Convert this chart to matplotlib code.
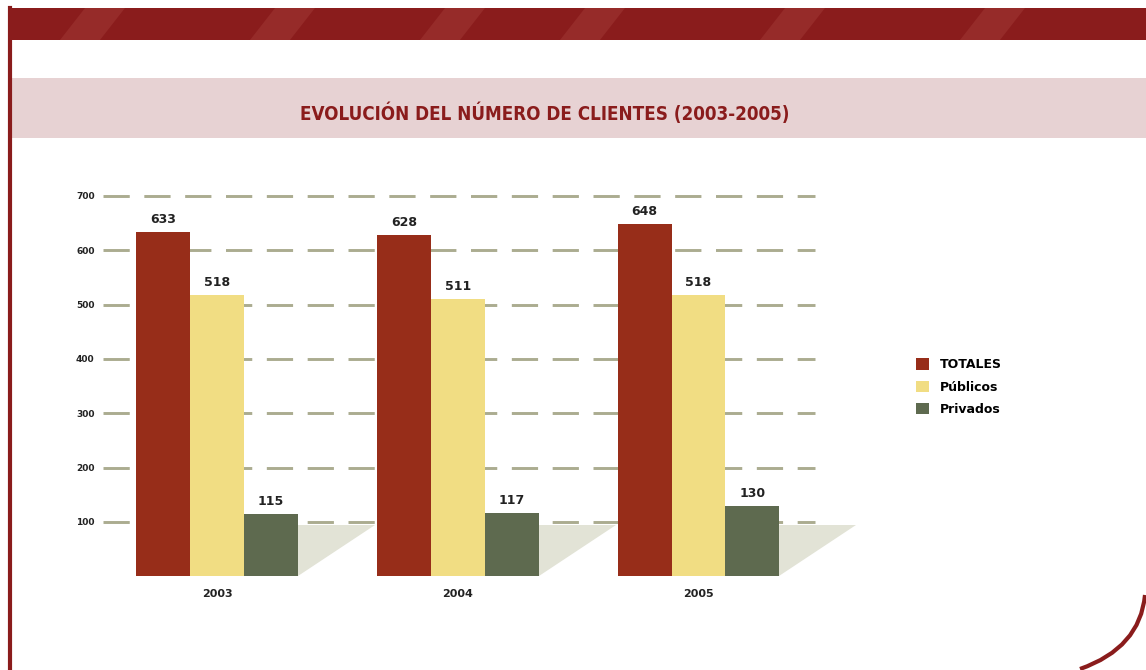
import matplotlib.pyplot as plt
from matplotlib.patches import Rectangle, Polygon, PathPatch
from matplotlib.path import Path
import numpy as np

years = ['2003', '2004', '2005']
series = ['TOTALES', 'Públicos', 'Privados']
totales = [633, 628, 648]
publicos = [518, 511, 518]
privados = [115, 117, 130]
yticks = [100, 200, 300, 400, 500, 600, 700]

colors = ['#972d19', '#f1dd83', '#5e6a4f']
dark_red = '#8a1c1c'

W, H = 1146, 670
fig = plt.figure(figsize=(W / 100, H / 100), dpi=100)
fig.patch.set_facecolor('white')

def px(x, y):
    # pixel coords (top-left origin) -> figure fraction
    return x / W, 1 - y / H

# top band with faint lighter stripes
fig.patches.append(Rectangle(px(8, 40), (W - 8) / W, 32 / H, transform=fig.transFigure,
                             facecolor=dark_red, edgecolor='none', zorder=0))
for x0 in [60, 250, 420, 560, 760, 960]:
    pts = [px(x0, 40), px(x0 + 40, 40), px(x0 + 65, 8), px(x0 + 25, 8)]
    fig.patches.append(Polygon(pts, closed=True, transform=fig.transFigure,
                               facecolor='#a23a36', edgecolor='none', alpha=0.5, zorder=0))

# pink title band
fig.patches.append(Rectangle(px(12, 138), (W - 12) / W, 60 / H, transform=fig.transFigure,
                             facecolor='#e7d2d3', edgecolor='none', zorder=0))

# left border and rounded bottom-right corner
fig.lines.append(plt.Line2D([10 / W, 10 / W], [0, 1 - 8 / H], transform=fig.transFigure,
                            color=dark_red, linewidth=3))
verts = [px(1145, 595), px(1140, 648), px(1080, 669)]
curve = Path(verts, [Path.MOVETO, Path.CURVE3, Path.CURVE3])
fig.patches.append(PathPatch(curve, transform=fig.transFigure, facecolor='none',
                             edgecolor=dark_red, linewidth=3))

fig.text(545 / W, 1 - 113 / H, 'EVOLUCIÓN DEL NÚMERO DE CLIENTES (2003-2005)',
         ha='center', va='center', fontsize=13.5, color=dark_red, fontweight='bold',
         family=['Liberation Sans Narrow', 'DejaVu Sans'], fontstretch='condensed')

# axes
left = 103 / W
right = 860 / W
bottom = (H - 576.3) / H
height = 391.2 / H
ax = fig.add_axes([left, bottom, right - left, height])
ax.set_facecolor('none')

x = np.arange(len(years))
bw = 0.224
vals = [totales, publicos, privados]

ax.set_xlim(-0.4735, 2.671)
ax.set_ylim(0, 720)

# dashed gridlines
for yv in yticks:
    ax.plot([-0.4735, 2.484], [yv, yv], color='#abac90', linewidth=2.1,
            dashes=(9, 5), zorder=1, solid_capstyle='butt', dash_capstyle='butt')

# floor shadows behind the private bars
for i in x:
    xr = i + 1.5 * bw
    ax.add_patch(Polygon([(xr, 0), (xr, 95), (i + 0.656, 95)], closed=True,
                         facecolor='#e2e3d6', edgecolor='none', zorder=2))

for k, (v, c) in enumerate(zip(vals, colors)):
    bars = ax.bar(x + (k - 1) * bw, v, width=bw, color=c, zorder=3, label=series[k])
    for b, val in zip(bars, v):
        ax.annotate(str(val), (b.get_x() + b.get_width() / 2, val), xytext=(0, 9),
                    textcoords='offset points', ha='center', va='center',
                    fontsize=9, fontweight='bold', color='#222222')

ax.set_yticks(yticks)
ax.set_yticklabels([str(t) for t in yticks], fontsize=6.5, fontweight='bold', color='#222222')
ax.set_xticks(x)
ax.set_xticklabels(years, fontsize=8, fontweight='bold', color='#222222')
ax.tick_params(axis='y', length=0, pad=6)
ax.tick_params(axis='x', length=0, pad=9)
for s in ax.spines.values():
    s.set_visible(False)

leg = fig.legend(loc='upper left', bbox_to_anchor=(910 / W, 1 - 352 / H), frameon=False,
                 prop={'size': 9, 'weight': 'bold'}, handlelength=1.0, handleheight=1.0,
                 handletextpad=0.9, labelspacing=0.75, borderpad=0)

fig.savefig('out.png', dpi=100)
